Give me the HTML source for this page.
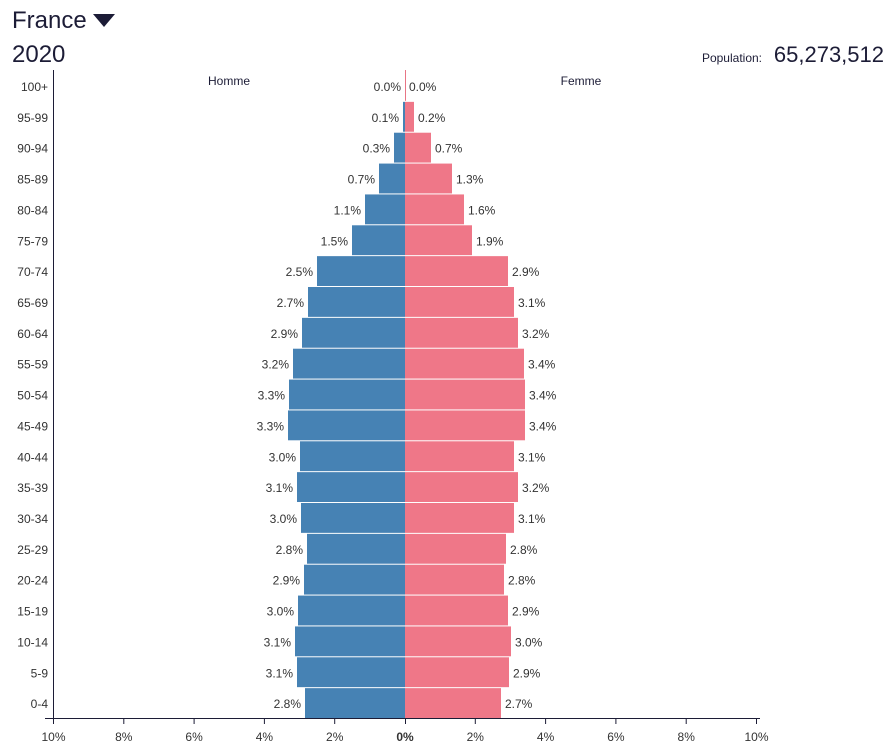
<!DOCTYPE html><html><head><style>body{margin:0;background:#fff}svg{display:block}text{font-family:"Liberation Sans",sans-serif}</style></head><body>
<svg width="896" height="752" xmlns="http://www.w3.org/2000/svg">
<text x="12" y="28" font-size="24" fill="#1c1c36">France</text>
<path d="M93 14h22l-11 13z" fill="#1c1c36"/>
<text x="12" y="62" font-size="24" fill="#1c1c36">2020</text>
<text x="762" y="62" font-size="12" fill="#1c1c36" text-anchor="end">Population:</text>
<text x="884" y="62" font-size="22" fill="#1c1c36" text-anchor="end">65,273,512</text>
<text x="229" y="85" font-size="12" fill="#1c1c36" text-anchor="middle">Homme</text>
<text x="581" y="85" font-size="12" fill="#1c1c36" text-anchor="middle">Femme</text>
<g font-size="12" fill="#333">
<g transform="translate(0,70)"><rect x="405" y="1" width="1" height="29.86" fill="#ef7788"/><text x="401" y="21" text-anchor="end">0.0%</text><text x="409" y="21">0.0%</text><text x="48" y="21" text-anchor="end">100+</text></g>
<g transform="translate(0,100.86)"><rect x="403" y="1" width="2" height="29.86" fill="#4682b4"/><rect x="405" y="1" width="9" height="29.86" fill="#ef7788"/><text x="399" y="21" text-anchor="end">0.1%</text><text x="418" y="21">0.2%</text><text x="48" y="21" text-anchor="end">95-99</text></g>
<g transform="translate(0,131.71)"><rect x="394" y="1" width="11" height="29.86" fill="#4682b4"/><rect x="405" y="1" width="26" height="29.86" fill="#ef7788"/><text x="390" y="21" text-anchor="end">0.3%</text><text x="435" y="21">0.7%</text><text x="48" y="21" text-anchor="end">90-94</text></g>
<g transform="translate(0,162.57)"><rect x="379" y="1" width="26" height="29.86" fill="#4682b4"/><rect x="405" y="1" width="47" height="29.86" fill="#ef7788"/><text x="375" y="21" text-anchor="end">0.7%</text><text x="456" y="21">1.3%</text><text x="48" y="21" text-anchor="end">85-89</text></g>
<g transform="translate(0,193.43)"><rect x="365" y="1" width="40" height="29.86" fill="#4682b4"/><rect x="405" y="1" width="59" height="29.86" fill="#ef7788"/><text x="361" y="21" text-anchor="end">1.1%</text><text x="468" y="21">1.6%</text><text x="48" y="21" text-anchor="end">80-84</text></g>
<g transform="translate(0,224.29)"><rect x="352" y="1" width="53" height="29.86" fill="#4682b4"/><rect x="405" y="1" width="67" height="29.86" fill="#ef7788"/><text x="348" y="21" text-anchor="end">1.5%</text><text x="476" y="21">1.9%</text><text x="48" y="21" text-anchor="end">75-79</text></g>
<g transform="translate(0,255.14)"><rect x="317" y="1" width="88" height="29.86" fill="#4682b4"/><rect x="405" y="1" width="103" height="29.86" fill="#ef7788"/><text x="313" y="21" text-anchor="end">2.5%</text><text x="512" y="21">2.9%</text><text x="48" y="21" text-anchor="end">70-74</text></g>
<g transform="translate(0,286)"><rect x="308" y="1" width="97" height="29.86" fill="#4682b4"/><rect x="405" y="1" width="109" height="29.86" fill="#ef7788"/><text x="304" y="21" text-anchor="end">2.7%</text><text x="518" y="21">3.1%</text><text x="48" y="21" text-anchor="end">65-69</text></g>
<g transform="translate(0,316.86)"><rect x="302" y="1" width="103" height="29.86" fill="#4682b4"/><rect x="405" y="1" width="113" height="29.86" fill="#ef7788"/><text x="298" y="21" text-anchor="end">2.9%</text><text x="522" y="21">3.2%</text><text x="48" y="21" text-anchor="end">60-64</text></g>
<g transform="translate(0,347.71)"><rect x="293" y="1" width="112" height="29.86" fill="#4682b4"/><rect x="405" y="1" width="119" height="29.86" fill="#ef7788"/><text x="289" y="21" text-anchor="end">3.2%</text><text x="528" y="21">3.4%</text><text x="48" y="21" text-anchor="end">55-59</text></g>
<g transform="translate(0,378.57)"><rect x="289" y="1" width="116" height="29.86" fill="#4682b4"/><rect x="405" y="1" width="120" height="29.86" fill="#ef7788"/><text x="285" y="21" text-anchor="end">3.3%</text><text x="529" y="21">3.4%</text><text x="48" y="21" text-anchor="end">50-54</text></g>
<g transform="translate(0,409.43)"><rect x="288" y="1" width="117" height="29.86" fill="#4682b4"/><rect x="405" y="1" width="120" height="29.86" fill="#ef7788"/><text x="284" y="21" text-anchor="end">3.3%</text><text x="529" y="21">3.4%</text><text x="48" y="21" text-anchor="end">45-49</text></g>
<g transform="translate(0,440.29)"><rect x="300" y="1" width="105" height="29.86" fill="#4682b4"/><rect x="405" y="1" width="109" height="29.86" fill="#ef7788"/><text x="296" y="21" text-anchor="end">3.0%</text><text x="518" y="21">3.1%</text><text x="48" y="21" text-anchor="end">40-44</text></g>
<g transform="translate(0,471.14)"><rect x="297" y="1" width="108" height="29.86" fill="#4682b4"/><rect x="405" y="1" width="113" height="29.86" fill="#ef7788"/><text x="293" y="21" text-anchor="end">3.1%</text><text x="522" y="21">3.2%</text><text x="48" y="21" text-anchor="end">35-39</text></g>
<g transform="translate(0,502)"><rect x="301" y="1" width="104" height="29.86" fill="#4682b4"/><rect x="405" y="1" width="109" height="29.86" fill="#ef7788"/><text x="297" y="21" text-anchor="end">3.0%</text><text x="518" y="21">3.1%</text><text x="48" y="21" text-anchor="end">30-34</text></g>
<g transform="translate(0,532.86)"><rect x="307" y="1" width="98" height="29.86" fill="#4682b4"/><rect x="405" y="1" width="101" height="29.86" fill="#ef7788"/><text x="303" y="21" text-anchor="end">2.8%</text><text x="510" y="21">2.8%</text><text x="48" y="21" text-anchor="end">25-29</text></g>
<g transform="translate(0,563.71)"><rect x="304" y="1" width="101" height="29.86" fill="#4682b4"/><rect x="405" y="1" width="99" height="29.86" fill="#ef7788"/><text x="300" y="21" text-anchor="end">2.9%</text><text x="508" y="21">2.8%</text><text x="48" y="21" text-anchor="end">20-24</text></g>
<g transform="translate(0,594.57)"><rect x="298" y="1" width="107" height="29.86" fill="#4682b4"/><rect x="405" y="1" width="103" height="29.86" fill="#ef7788"/><text x="294" y="21" text-anchor="end">3.0%</text><text x="512" y="21">2.9%</text><text x="48" y="21" text-anchor="end">15-19</text></g>
<g transform="translate(0,625.43)"><rect x="295" y="1" width="110" height="29.86" fill="#4682b4"/><rect x="405" y="1" width="106" height="29.86" fill="#ef7788"/><text x="291" y="21" text-anchor="end">3.1%</text><text x="515" y="21">3.0%</text><text x="48" y="21" text-anchor="end">10-14</text></g>
<g transform="translate(0,656.29)"><rect x="297" y="1" width="108" height="29.86" fill="#4682b4"/><rect x="405" y="1" width="104" height="29.86" fill="#ef7788"/><text x="293" y="21" text-anchor="end">3.1%</text><text x="513" y="21">2.9%</text><text x="48" y="21" text-anchor="end">5-9</text></g>
<g transform="translate(0,687.14)"><rect x="305" y="1" width="100" height="29.86" fill="#4682b4"/><rect x="405" y="1" width="96" height="29.86" fill="#ef7788"/><text x="301" y="21" text-anchor="end">2.8%</text><text x="505" y="21">2.7%</text><text x="48" y="21" text-anchor="end">0-4</text></g>
</g>
<line x1="53.5" y1="70" x2="53.5" y2="718" stroke="#1c1c36"/>
<line x1="405.5" y1="70" x2="405.5" y2="100" stroke="#e87585"/>
<line x1="45" y1="718.5" x2="760" y2="718.5" stroke="#1c1c36"/>
<g stroke="#1c1c36">
<line x1="53.5" y1="718" x2="53.5" y2="724"/><line x1="123.8" y1="718" x2="123.8" y2="724"/><line x1="194.1" y1="718" x2="194.1" y2="724"/><line x1="264.4" y1="718" x2="264.4" y2="724"/><line x1="334.7" y1="718" x2="334.7" y2="724"/><line x1="405.5" y1="718" x2="405.5" y2="724"/><line x1="475.3" y1="718" x2="475.3" y2="724"/><line x1="545.6" y1="718" x2="545.6" y2="724"/><line x1="615.9" y1="718" x2="615.9" y2="724"/><line x1="686.2" y1="718" x2="686.2" y2="724"/><line x1="756.5" y1="718" x2="756.5" y2="724"/>
</g>
<g font-size="12" fill="#333" text-anchor="middle">
<text x="53.5" y="741">10%</text><text x="123.8" y="741">8%</text><text x="194.1" y="741">6%</text><text x="264.4" y="741">4%</text><text x="334.7" y="741">2%</text><text x="405" y="741" font-weight="bold">0%</text><text x="475.3" y="741">2%</text><text x="545.6" y="741">4%</text><text x="615.9" y="741">6%</text><text x="686.2" y="741">8%</text><text x="756.5" y="741">10%</text>
</g>
</svg></body></html>
